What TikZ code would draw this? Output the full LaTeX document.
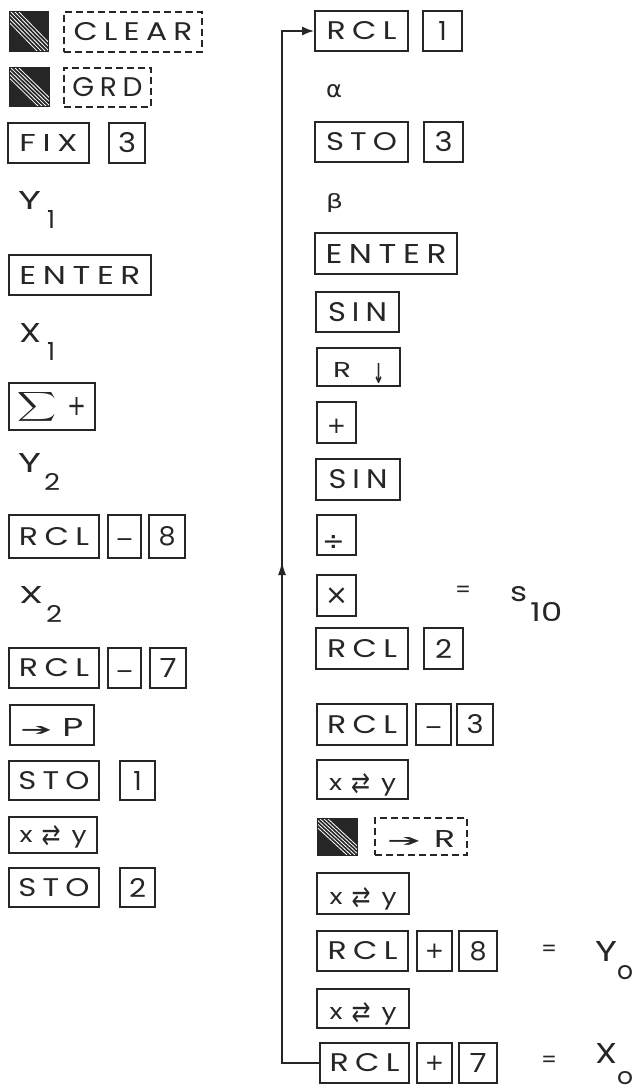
\documentclass[tikz,border=0pt]{standalone}
\usepackage{graphicx}
\usepackage{fontspec}
\setmainfont{Poppins}
\newfontfamily\keyfont[LetterSpace=20]{Poppins}
\newfontfamily\plainfont{Poppins}
\newfontfamily\symfont{DejaVu Sans}
\usetikzlibrary{arrows.meta,decorations.markings}
\definecolor{ink}{HTML}{262626}
\tikzset{
  key/.style={draw=ink, line width=1.8pt, inner sep=0pt, minimum height=40pt,
    text=ink, font={\keyfont\fontsize{26}{30}\selectfont}},
  dkey/.style={key, line width=1.6pt, dash pattern=on 7pt off 4pt},
  shkey/.style={draw=ink, fill=ink, line width=1pt, inner sep=0pt,
    path picture={
      \foreach \d in {-10,-6,-2,2,6,10}{
        \draw[white, line width=0.8pt]
          ([xshift=\d pt]path picture bounding box.north west) --
          ([xshift=\d pt]path picture bounding box.south east);
      }}},
  lbl/.style={inner sep=0pt, anchor=base west, text=ink,
    font={\plainfont\fontsize{26}{30}\selectfont}},
  eq/.style={inner sep=0pt, text=ink, font={\plainfont\fontsize{26}{30}\selectfont}},
  conn/.style={draw=ink, line width=1.8pt},
}
\newcommand{\sym}[1]{{\symfont #1}}
\newcommand{\kt}[3]{\resizebox{#1}{#2}{#3}}
\newcommand{\kd}[2]{\resizebox{!}{#1}{#2}}
\newcommand{\cg}[3]{\raisebox{#1}[0pt][0pt]{\sym{\fontsize{#2}{#2}\selectfont #3}}}
\newcommand{\hs}[1]{\resizebox{!}{#1}}
\newcommand{\xy}{{\plainfont\resizebox{13pt}{12pt}{x}}\hspace{9pt}\raisebox{-2pt}{\resizebox{19pt}{19pt}{\sym{⇄}}}\hspace{11pt}{\plainfont\resizebox{15pt}{12pt}{y}}}
\begin{document}
\begin{tikzpicture}[x=1pt,y=-1pt]
\useasboundingbox[fill=white] (0,0) rectangle (639,1091);
% left column
\node[shkey, minimum width=39pt, minimum height=40pt] (sh1) at (28.5,32) {};
\node[dkey, minimum width=138pt] (clear) at (133,32) {\kt{119pt}{18pt}{CLEAR}};
\node[shkey, minimum width=40pt, minimum height=39pt] (sh2) at (29,87.5) {};
\node[dkey, minimum width=87pt, minimum height=39pt] (grd) at (107.5,87.5) {\kt{70pt}{19pt}{GRD}};
\node[key, minimum width=81pt] (fix) at (48.5,143) {\kt{58pt}{17pt}{FIX}};
\node[key, minimum width=36pt] (fixd) at (127,143) {\kt{18pt}{20pt}{3}};
\node[lbl] (ya) at (18,210) {\resizebox{23pt}{18pt}{Y}\hspace{6pt}\raisebox{-18pt}{\hs{18pt}{1}}};
\node[key, minimum width=142pt] (entera) at (80,275) {\kt{121pt}{18pt}{ENTER}};
\node[lbl] (xa) at (19,342) {\resizebox{22pt}{19pt}{X}\hspace{6pt}\raisebox{-18pt}{\hs{18pt}{1}}};
\node[key, minimum width=86pt, minimum height=47pt] (sum) at (52,406.5)
  {$\vcenter{\hbox{\resizebox*{39pt}{33pt}{$\displaystyle\sum$}}}$\hspace{10pt}$\vcenter{\hbox{\resizebox{19pt}{18pt}{\sym{+}}}}$};
\node[lbl] (yb) at (18,472) {\resizebox{23pt}{19pt}{Y}\hspace{3pt}\raisebox{-18pt}{\kt{16pt}{17pt}{2}}};
\node[key, minimum width=90pt, minimum height=43pt] (rcla) at (54,536.5) {\kt{70pt}{18pt}{RCL}};
\node[key, minimum width=33pt, minimum height=43pt] (mina) at (124.5,536.5) {\cg{-10pt}{22pt}{−}};
\node[key, minimum width=36pt, minimum height=43pt] (eighta) at (167,536.5) {\kt{17pt}{19pt}{8}};
\node[lbl] (xb) at (19,603) {\resizebox{24pt}{17pt}{X}\hspace{3pt}\raisebox{-19pt}{\kt{16pt}{17pt}{2}}};
\node[key, minimum width=90pt] (rclb) at (54,668) {\kt{70pt}{18pt}{RCL}};
\node[key, minimum width=33pt] (minb) at (124.5,668) {\cg{-10pt}{22pt}{−}};
\node[key, minimum width=36pt] (sevena) at (168,668) {\kt{17pt}{19pt}{7}};
\node[key, minimum width=84pt, text height=22pt, text depth=0pt] (topol) at (52,725)
  {\raisebox{1pt}{\resizebox{32pt}{9pt}{\sym{➔}}}\hspace{10pt}\kt{21pt}{18pt}{P}};
\node[key, minimum width=90pt, minimum height=39pt] (stoa) at (54,780.5) {\kt{71pt}{18pt}{STO}};
\node[key, minimum width=35pt, minimum height=39pt] (onea) at (137.5,780.5) {\kd{19pt}{1}};
\node[key, minimum width=88pt, minimum height=36pt, text height=15pt, text depth=0pt] (xya) at (53,835) {\xy};
\node[key, minimum width=90pt, minimum height=39pt] (stob) at (54,887.5) {\kt{71pt}{18pt}{STO}};
\node[key, minimum width=35pt, minimum height=39pt] (twoa) at (137.5,887.5) {\kt{17pt}{19pt}{2}};
% right column
\node[key, minimum width=93pt] (rclc) at (361.5,31) {\kt{70pt}{18pt}{RCL}};
\node[key, minimum width=39pt] (oneb) at (442.5,31) {\kd{19pt}{1}};
\node[lbl] (alpha) at (326,98) {\resizebox{16pt}{13pt}{\sym{α}}};
\node[key, minimum width=93pt] (stoc) at (361.5,142) {\kt{71pt}{18pt}{STO}};
\node[key, minimum width=39pt] (threeb) at (443.5,142) {\kt{18pt}{20pt}{3}};
\node[lbl, anchor=south west] (beta) at (326,213) {\resizebox*{17pt}{19pt}{\sym{β}}};
\node[key, minimum width=142pt, minimum height=41pt] (enterb) at (386,253.5) {\kt{121pt}{19pt}{ENTER}};
\node[key, minimum width=83pt] (sina) at (357.5,312) {\kt{59pt}{19pt}{SIN}};
\node[key, minimum width=83pt, minimum height=38pt, text height=20pt, text depth=0pt] (rdn) at (358.5,367)
  {\kt{18pt}{15pt}{R}\hspace{22pt}\raisebox{-6pt}{\resizebox{11pt}{20pt}{\sym{\bfseries ↓}}}};
\node[key, minimum width=39pt, minimum height=41pt] (plusa) at (336.5,422.5) {\cg{-11pt}{23pt}{+}};
\node[key, minimum width=84pt, minimum height=41pt] (sinb) at (358,479.5) {\kt{59pt}{19pt}{SIN}};
\node[key, minimum width=39pt] (divd) at (336.5,535) {\cg{-15pt}{27pt}{÷}\kern6pt};
\node[key, minimum width=39pt, minimum height=41pt] (mult) at (336.5,595.5) {\cg{-9pt}{28pt}{×}};
\node[eq] (eqa) at (463,592) {\resizebox{16pt}{!}{=}};
\node[lbl] (s10) at (510,601) {\resizebox{17pt}{15pt}{s}\hspace{3pt}\raisebox{-20pt}{\kt{32pt}{19pt}{10}}};
\node[key, minimum width=92pt, minimum height=41pt] (rcld) at (362,648.5) {\kt{70pt}{18pt}{RCL}};
\node[key, minimum width=39pt, minimum height=41pt] (twob) at (443.5,648.5) {\kt{17pt}{19pt}{2}};
\node[key, minimum width=90pt, minimum height=41pt] (rcle) at (362,724.5) {\kt{70pt}{18pt}{RCL}};
\node[key, minimum width=35pt, minimum height=41pt] (minc) at (433.5,724.5) {\cg{-10pt}{22pt}{−}};
\node[key, minimum width=36pt, minimum height=41pt] (threec) at (475,724.5) {\kt{17pt}{19pt}{3}};
\node[key, minimum width=91pt, minimum height=39pt, text height=21pt, text depth=0pt] (xyb) at (362.5,779.5) {\xy};
\node[shkey, minimum width=40pt, minimum height=37pt] (sh3) at (337,836.5) {};
\node[dkey, minimum width=92pt, minimum height=37pt, text height=22pt, text depth=0pt] (torect) at (421,836.5)
  {\raisebox{1pt}{\resizebox{34pt}{9pt}{\sym{➔}}}\hspace{13pt}\kt{21pt}{17pt}{R}};
\node[key, minimum width=92pt, minimum height=41pt, text height=21pt, text depth=0pt] (xyc) at (363,893.5) {\xy};
\node[key, minimum width=91pt] (rclf) at (362.5,951) {\kt{70pt}{18pt}{RCL}};
\node[key, minimum width=35pt] (plusb) at (434.5,951) {\cg{-7pt}{23pt}{+}};
\node[key, minimum width=38pt] (eightb) at (478,951) {\kt{17pt}{19pt}{8}};
\node[eq] (eqb) at (549,951) {\resizebox{16pt}{!}{=}};
\node[lbl] (yo) at (595,961) {\resizebox{22pt}{20pt}{Y}\raisebox{-18pt}{\resizebox{16pt}{14pt}{o}}};
\node[key, minimum width=92pt, minimum height=39pt, text height=21pt, text depth=0pt] (xyd) at (363,1008.5) {\xy};
\node[key, minimum width=89pt] (rclg) at (364.5,1063) {\kt{70pt}{18pt}{RCL}};
\node[key, minimum width=35pt] (plusc) at (434.5,1063) {\cg{-7pt}{23pt}{+}};
\node[key, minimum width=38pt] (sevenb) at (478,1063) {\kt{17pt}{19pt}{7}};
\node[eq] (eqc) at (549,1062) {\resizebox{16pt}{!}{=}};
\node[lbl] (xo) at (595,1063) {\resizebox{22pt}{20pt}{X}\raisebox{-21pt}{\resizebox{16pt}{13pt}{o}}};
% loop connector
\coordinate (c1) at (282,1063);
\coordinate (c2) at (282,31);
\draw[conn, -{Latex[length=12pt,width=9pt]},
  decoration={markings, mark=at position 539pt with {\arrow{Latex[length=14pt,width=8pt]}}},
  postaction={decorate}]
  (rclg.west) -- (c1) -- (c2) -- (rclc.west);
\end{tikzpicture}
\end{document}
